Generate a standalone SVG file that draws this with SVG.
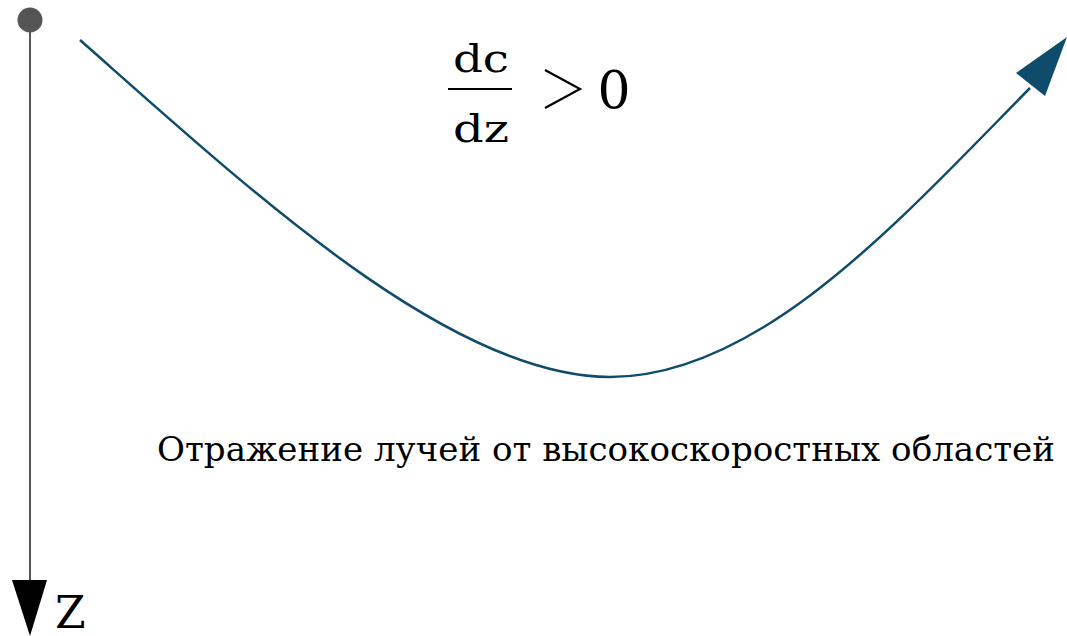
<svg xmlns="http://www.w3.org/2000/svg" width="1067" height="636" viewBox="0 0 1067 636">
<style>
text{font-family:'DejaVu Serif','Liberation Serif',serif;fill:#000}
.ray{fill:none;stroke:#0f4c6b;stroke-width:2.5}
</style>
<rect width="1067" height="636" fill="#fff"/>
<g id="axis">
<line x1="30" y1="20" x2="30" y2="585" stroke="#555" stroke-width="2"/>
<circle cx="30" cy="20" r="12.5" fill="#555"/>
<polygon points="12,580 47,580 30,636" fill="#000"/>
<text x="55" y="628" font-size="44">Z</text>
</g>
<g id="connectors">
<path class="ray" d="M80,40 C250,190 450,377 610,377 C760,377 900,220 1030,88"/>
<polygon points="1067,37 1016,73 1045,96" fill="#0f4c6b"/>
</g>
<g id="formula">
<text x="481" y="72" font-size="40" text-anchor="middle" textLength="56" lengthAdjust="spacingAndGlyphs">dc</text>
<line x1="448" y1="89" x2="512" y2="89" stroke="#000" stroke-width="2"/>
<text x="481" y="142" font-size="40" text-anchor="middle" textLength="56" lengthAdjust="spacingAndGlyphs">dz</text>
<polyline points="545,70 580,89 545,108" fill="none" stroke="#000" stroke-width="2.2"/>
<text x="614" y="108" font-size="52" text-anchor="middle">0</text>
</g>
<g id="label">
<text x="157" y="461" font-size="33.5" textLength="898" lengthAdjust="spacingAndGlyphs">Отражение лучей от высокоскоростных областей</text>
</g>
</svg>
